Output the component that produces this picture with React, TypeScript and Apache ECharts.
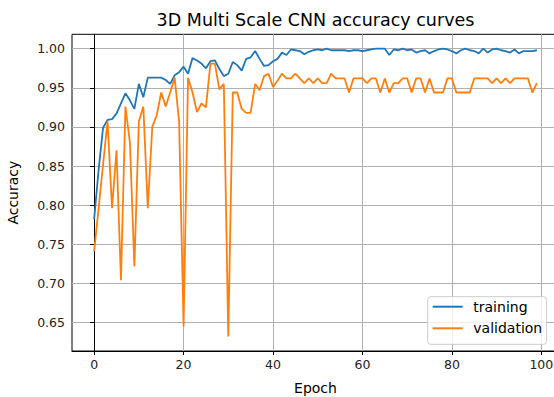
import React, { useEffect, useRef } from "react";
import * as echarts from "echarts";

const title = "3D Multi Scale CNN accuracy curves";
const xName = "Epoch";
const yName = "Accuracy";
const seriesNames = ["training", "validation"];

const training = [
  0.782, 0.845, 0.899, 0.909, 0.910, 0.917, 0.930, 0.943, 0.934, 0.923,
  0.955, 0.938, 0.963, 0.963, 0.963, 0.963, 0.960, 0.955, 0.966, 0.970,
  0.977, 0.968, 0.988, 0.985, 0.981, 0.975, 0.984, 0.985, 0.974, 0.965,
  0.968, 0.983, 0.979, 0.972, 0.987, 0.989, 0.997, 0.987, 0.978, 0.979,
  0.984, 0.987, 0.995, 0.992, 0.999, 0.998, 0.997, 0.993, 0.996, 0.998,
  0.999, 0.998, 1.000, 0.998, 0.998, 0.998, 0.998, 0.997, 0.998, 0.998,
  0.997, 0.998, 0.999, 1.000, 1.000, 1.000, 0.992, 0.999, 0.998, 1.000,
  0.998, 0.999, 0.995, 0.997, 0.998, 0.994, 0.997, 0.999, 1.000, 0.999,
  0.997, 0.994, 0.998, 1.000, 0.998, 0.997, 0.994, 1.000, 0.995, 0.999,
  1.000, 0.998, 0.997, 0.995, 0.999, 0.994, 0.997, 0.997, 0.997, 0.998,
];

const validation = [
  0.741, 0.796, 0.852, 0.907, 0.796, 0.870, 0.704, 0.926, 0.880, 0.722,
  0.907, 0.926, 0.796, 0.900, 0.915, 0.944, 0.926, 0.944, 0.963, 0.907,
  0.645, 0.963, 0.944, 0.919, 0.930, 0.925, 0.981, 0.981, 0.948, 0.955,
  0.632, 0.944, 0.944, 0.923, 0.918, 0.918, 0.955, 0.947, 0.965, 0.968,
  0.951, 0.959, 0.968, 0.962, 0.962, 0.968, 0.962, 0.956, 0.962, 0.956,
  0.962, 0.956, 0.956, 0.968, 0.962, 0.962, 0.962, 0.944, 0.962, 0.962,
  0.962, 0.956, 0.962, 0.962, 0.944, 0.962, 0.944, 0.956, 0.956, 0.962,
  0.962, 0.944, 0.962, 0.962, 0.944, 0.962, 0.944, 0.944, 0.944, 0.962,
  0.962, 0.944, 0.944, 0.944, 0.944, 0.962, 0.962, 0.962, 0.962, 0.956,
  0.962, 0.956, 0.962, 0.956, 0.962, 0.962, 0.962, 0.962, 0.944, 0.956,
];

const xTicks = [0, 20, 40, 60, 80, 100];
const yTicks = [0.65, 0.7, 0.75, 0.8, 0.85, 0.9, 0.95, 1.0];

const FONT = "DejaVu Sans";

export default function App() {
  const ref = useRef<HTMLDivElement>(null);
  useEffect(() => {
    if (!ref.current) return;
    const chart = echarts.init(ref.current, undefined, { renderer: "svg" });
    const n = training.length;
    const xMin = -0.05 * (n - 1);
    const xMax = (n - 1) * 1.05;
    const all = training.concat(validation);
    const lo = Math.min(...all);
    const hi = Math.max(...all);
    const yMin = lo - 0.05 * (hi - lo);
    const yMax = hi + 0.05 * (hi - lo);
    const tr = training.map((v, i) => [i, v]);
    const va = validation.map((v, i) => [i, v]);
    chart.setOption({
      animation: false,
      textStyle: { fontFamily: FONT },
      grid: {
        left: 72,
        top: 34.3,
        width: 487,
        height: 316.7,
        outerBoundsMode: "none",
        containLabel: false,
        show: true,
        borderColor: "#000",
        borderWidth: 1,
        backgroundColor: "transparent",
      },
      graphic: [
        {
          type: "text",
          x: 315.5,
          y: 19.5,
          style: {
            text: title,
            fontFamily: FONT,
            fontSize: 17.5,
            fill: "#000",
            textAlign: "center",
            textVerticalAlign: "middle",
          },
        },
      ],
      legend: {
        data: seriesNames,
        orient: "vertical",
        left: 427.7,
        top: 296.7,
        icon: "rect",
        itemWidth: 30,
        itemHeight: 2,
        itemGap: 7.6,
        padding: [3, 4.4, 9, 5],
        backgroundColor: "rgba(255,255,255,0.8)",
        borderColor: "#cccccc",
        borderWidth: 1,
        borderRadius: 3,
        textStyle: {
          fontFamily: FONT,
          fontSize: 14,
          lineHeight: 14,
          color: "#000",
          padding: [0, 0, 0, 5.6],
        },
      },
      xAxis: {
        type: "value",
        min: xMin,
        max: xMax,
        name: xName,
        nameLocation: "middle",
        nameGap: 30,
        nameTextStyle: { fontFamily: FONT, fontSize: 14, color: "#000" },
        axisLine: { show: true, lineStyle: { color: "#000", width: 1 } },
        axisTick: { show: true, length: 4, lineStyle: { color: "#000" }, customValues: xTicks },
        axisLabel: {
          customValues: xTicks,
          margin: 7,
          fontFamily: FONT,
          fontSize: 12.5,
          color: "#222",
          formatter: (v: number) => String(Math.round(v)),
        },
        splitLine: { show: true, lineStyle: { color: "#b0b0b0", width: 1 } },
      },
      yAxis: {
        type: "value",
        min: yMin,
        max: yMax,
        name: yName,
        nameLocation: "middle",
        nameGap: 52,
        nameRotate: 90,
        nameTextStyle: { fontFamily: FONT, fontSize: 14, color: "#000" },
        axisLine: { show: true, lineStyle: { color: "#000", width: 1 } },
        axisTick: { show: true, length: 4, lineStyle: { color: "#000" }, customValues: yTicks },
        axisLabel: {
          customValues: yTicks,
          margin: 7,
          fontFamily: FONT,
          fontSize: 12.5,
          color: "#222",
          formatter: (v: number) => v.toFixed(2),
        },
        splitLine: { show: true, lineStyle: { color: "#b0b0b0", width: 1 } },
      },
      series: [
        {
          name: seriesNames[0],
          type: "line",
          data: tr,
          showSymbol: false,
          symbol: "none",
          lineStyle: { color: "#1f77b4", width: 1.8 },
          itemStyle: { color: "#1f77b4" },
          z: 3,
        },
        {
          name: seriesNames[1],
          type: "line",
          data: va,
          showSymbol: false,
          symbol: "none",
          lineStyle: { color: "#ff7f0e", width: 1.8 },
          itemStyle: { color: "#ff7f0e" },
          z: 4,
        },
      ],
    });
    return () => chart.dispose();
  }, []);
  return (
    <div
      ref={ref}
      style={{ position: "absolute", left: 0, top: 0, width: 554, height: 397, background: "#fff" }}
    />
  );
}
